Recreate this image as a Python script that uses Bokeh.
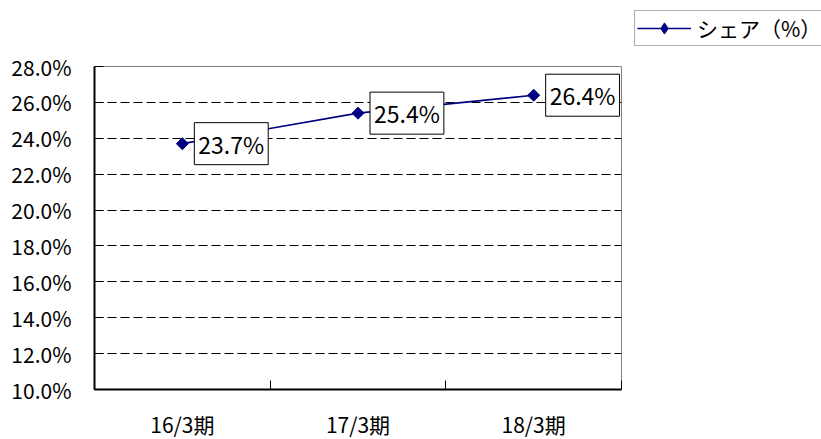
import math
from bokeh.plotting import figure
from bokeh.models import (FixedTicker, PrintfTickFormatter, ColumnDataSource, Label,
                          Legend, LegendItem, Range1d)
from bokeh.embed import file_html
from bokeh.resources import INLINE

# ---- data ----
categories = ["16/3期", "17/3期", "18/3期"]
share = [23.7, 25.4, 26.4]
series_name = "シェア（%）"
y_ticks = [10, 12, 14, 16, 18, 20, 22, 24, 26, 28]

xs = [i + 0.5 for i in range(len(categories))]
labels = [f"{v:.1f}%" for v in share]
src = ColumnDataSource(dict(x=xs, y=share, label=labels))

JP_FONT = "'Noto Sans CJK JP', sans-serif"
NAVY = "#000080"

p = figure(frame_width=527, frame_height=323, output_backend="svg", toolbar_location=None,
           x_range=Range1d(0, len(categories)), y_range=Range1d(y_ticks[0], y_ticks[-1]),
           min_border_left=94, min_border_right=200, min_border_top=66, min_border_bottom=50)
p.background_fill_color = "white"
p.border_fill_color = "white"
p.outline_line_color = "#808080"
p.outline_line_width = 1

line_r = p.line("x", "y", source=src, line_color=NAVY, line_width=1.6)
pts_r = p.scatter("x", "y", source=src, marker="square", angle=math.pi / 4, size=8.5,
                  fill_color=NAVY, line_color=NAVY)
# diamond used only for the legend swatch (legend ignores marker angle)
key_r = p.scatter("x", "y", source=src, marker="diamond", size=16,
                  fill_color=NAVY, line_color=NAVY, visible=False)

for x, y, t in zip(xs, share, labels):
    p.add_layout(Label(x=x, y=y, text=t, x_offset=12,
                       text_align="left", text_baseline="middle",
                       text_font=JP_FONT, text_font_size="23px", text_color="black",
                       background_fill_color="white", border_line_color="black",
                       border_line_width=1, padding=(4, 4)))

# x axis
xa = p.xaxis[0]
xa.ticker = FixedTicker(ticks=xs, minor_ticks=list(range(len(categories) + 1)))
xa.major_label_overrides = {x: c for x, c in zip(xs, categories)}
xa.major_tick_in = 0
xa.major_tick_out = 0
xa.minor_tick_in = 9
xa.minor_tick_out = 0
xa.minor_tick_line_color = "black"
xa.axis_line_color = "black"
xa.axis_line_width = 2
xa.major_label_standoff = 19
xa.major_label_text_font = JP_FONT
xa.major_label_text_font_size = "21px"
xa.major_label_text_color = "black"

# y axis
ya = p.yaxis[0]
ya.ticker = FixedTicker(ticks=y_ticks)
ya.formatter = PrintfTickFormatter(format="%.1f%%")
ya.major_tick_in = 9
ya.major_tick_out = 0
ya.minor_tick_line_color = None
ya.axis_line_color = "black"
ya.axis_line_width = 2
ya.major_label_standoff = 23
ya.major_label_text_font = JP_FONT
ya.major_label_text_font_size = "21px"
ya.major_label_text_color = "black"

p.xgrid.grid_line_color = None
p.ygrid.ticker = FixedTicker(ticks=y_ticks[1:-1])
p.ygrid.grid_line_color = "black"
p.ygrid.grid_line_dash = "9 4"
p.ygrid.grid_line_width = 1

legend = Legend(items=[LegendItem(label=series_name, renderers=[line_r, key_r])],
                location=(13, 343), orientation="vertical",
                glyph_width=54, glyph_height=28, label_standoff=6,
                padding=2, margin=0, spacing=0,
                border_line_color="#606060", border_line_width=1,
                background_fill_color="white", background_fill_alpha=1,
                label_text_font=JP_FONT, label_text_font_size="21px",
                label_text_color="black")
p.add_layout(legend, "right")

open("out.html", "w").write(file_html(p, INLINE))
